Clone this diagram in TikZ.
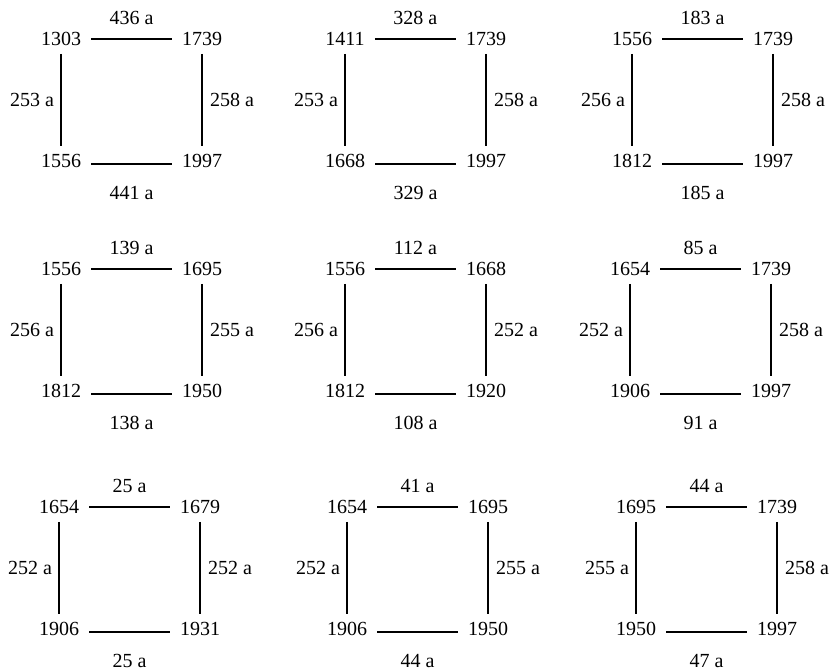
\documentclass[tikz,border=0pt]{standalone}
\usepackage{fontspec}
\setmainfont{Liberation Serif}
\usetikzlibrary{positioning}
\tikzset{
	yearnode/.style={inner xsep=10bp, inner ysep=8bp, font=\fontsize{20bp}{24bp}\selectfont},
	spanlabel/.style={inner sep=0pt, font=\fontsize{20bp}{24bp}\selectfont},
	spanline/.style={line width=1.1bp},
}

\begin{document}
\begin{tikzpicture}[x=1bp, y=-1bp]
	\useasboundingbox (0,0) rectangle (833,671);
	% one square per pair of records: corner years, spans on the sides
	\foreach \xa/\ya/\ytl/\ytr/\ybl/\ybr/\sup/\sdown/\sleft/\sright [count=\n] in {
			61/39/1303/1739/1556/1997/436/441/253/258,
			345/39/1411/1739/1668/1997/328/329/253/258,
			632/39/1556/1739/1812/1997/183/185/256/258,
			61/269/1556/1695/1812/1950/139/138/256/255,
			345/269/1556/1668/1812/1920/112/108/256/252,
			630/269/1654/1739/1906/1997/85/91/252/258,
			59/507/1654/1679/1906/1931/25/25/252/252,
			347/507/1654/1695/1906/1950/41/44/252/255,
			636/507/1695/1739/1950/1997/44/47/255/258}
	{
		\node[yearnode] (tl\n) at (\xa,\ya) {\ytl};
		\node[yearnode] (tr\n) at (\xa+141,\ya) {\ytr};
		\node[yearnode] (bl\n) at (\xa,\ya+122) {\ybl};
		\node[yearnode] (br\n) at (\xa+141,\ya+122) {\ybr};

		\draw[spanline] (tl\n) -- node[above=14bp, spanlabel] {\sup\ a} (tr\n);
		\draw[spanline] ([yshift=-3bp]bl\n.east) -- node[below=22bp, spanlabel] {\sdown\ a} ([yshift=-3bp]br\n.west);
		\draw[spanline] (tl\n) -- node[left=6.5bp, spanlabel] {\sleft\ a} (bl\n);
		\draw[spanline] (tr\n) -- node[right=7.5bp, spanlabel] {\sright\ a} (br\n);
	}
\end{tikzpicture}
\end{document}
